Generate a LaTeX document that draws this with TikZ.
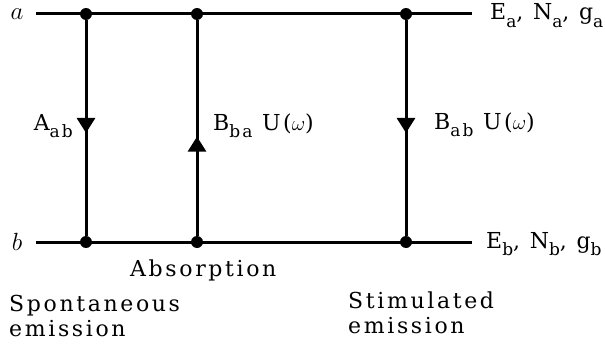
\documentclass[tikz,border=0pt]{standalone}
\usepackage{fontspec}
\setmainfont{DejaVu Serif}[LetterSpace=12]
\usetikzlibrary{arrows.meta,decorations.markings}

\newcommand{\lsub}[1]{\raisebox{-0.36em}{\fontsize{17}{17}\selectfont #1}}

\tikzset{
  level/.style={line width=3pt},
  trans/.style={line width=3pt, postaction={decorate},
    decoration={markings, mark=at position #1 with {\arrow{Triangle[width=18pt,length=15pt]}}}},
  dot/.style={circle, fill, inner sep=0pt, minimum size=12pt},
  lab/.style={font=\fontsize{22}{25}\selectfont, inner sep=0pt},
  lvl/.style={font=\fontsize{25}{25}\selectfont, inner sep=0pt},
}

\begin{document}
\begin{tikzpicture}[x=1pt,y=-1pt]
  \useasboundingbox (0,0) rectangle (605,345);

  % levels
  \coordinate (aL) at (36,14);
  \coordinate (aR) at (472,14);
  \coordinate (bL) at (36,242);
  \coordinate (bR) at (472,242);
  \path[draw, level] (aL) -- (aR);
  \path[draw, level] (bL) -- (bR);

  % dots on the levels
  \node[dot] (a1) at (86,14) {};
  \node[dot] (a2) at (197,14) {};
  \node[dot] (a3) at (406,14) {};
  \node[dot] (b1) at (86,242) {};
  \node[dot] (b2) at (197,242) {};
  \node[dot] (b3) at (406,242) {};

  % transitions
  \path[draw, trans=0.523] (a1) -- (b1);
  \path[draw, trans=0.46] (b2) -- (a2);
  \path[draw, trans=0.523] (a3) -- (b3);

  % level names
  \node[lvl] (la) at (17,14) {$a$};
  \node[lvl] (lb) at (17,242) {$b$};
  \node[lab, anchor=base west] (Ea) at (490,20) {E\lsub{a}, N\lsub{a}, g\lsub{a}};
  \node[lab, anchor=base west] (Eb) at (486,248) {E\lsub{b}, N\lsub{b}, g\lsub{b}};

  % rates
  \node[lab, anchor=base east] (Aab) at (73,130) {A\lsub{ab}};
  \node[lab, anchor=base west] (Bba) at (213,130) {B\lsub{ba} U($\omega$)};
  \node[lab, anchor=base west] (Bab) at (434,129) {B\lsub{ab} U($\omega$)};

  % processes
  \node[lab, anchor=base west] (abs) at (130,276) {Absorption};
  \node[lab, anchor=north west, align=left] (spon) at (9,295) {Spontaneous\\emission};
  \node[lab, anchor=north west, align=left] (stim) at (348,292) {Stimulated\\emission};
\end{tikzpicture}
\end{document}
